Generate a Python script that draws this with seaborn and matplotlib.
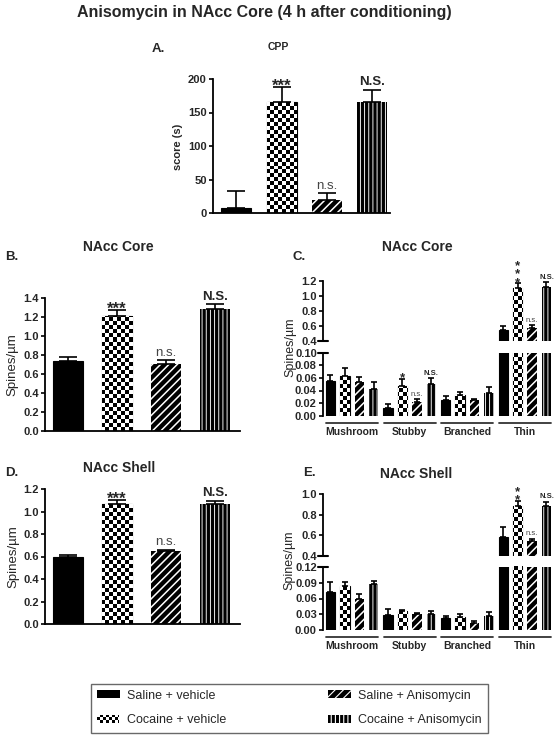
import numpy as np
import pandas as pd
import matplotlib.pyplot as plt
import matplotlib.transforms as mtransforms
from matplotlib.patches import Patch
import seaborn as sns

treatments = ["Saline + vehicle", "Cocaine + vehicle",
              "Saline + Anisomycin", "Cocaine + Anisomycin"]
spine_types = ["Mushroom", "Stubby", "Branched", "Thin"]

# A. CPP score (s): mean and upper error
cpp_mean = [8, 165, 19, 166]
cpp_err = [25, 23, 11, 18]
cpp_sig = ["", "***", "n.s.", "N.S."]

# B. NAcc core, total spines/um
core_mean = [0.74, 1.21, 0.70, 1.28]
core_err = [0.04, 0.06, 0.045, 0.05]
core_sig = ["", "***", "n.s.", "N.S."]

# D. NAcc shell, total spines/um
shell_mean = [0.60, 1.07, 0.645, 1.065]
shell_err = [0.015, 0.03, 0.015, 0.03]
shell_sig = ["", "***", "n.s.", "N.S."]

# C. NAcc core by spine type (Mushroom, Stubby, Branched, Thin)
core_sal_veh = [0.055, 0.013, 0.025, 0.55]
core_coc_veh = [0.063, 0.047, 0.033, 1.107]
core_sal_ani = [0.054, 0.021, 0.025, 0.567]
core_coc_ani = [0.043, 0.050, 0.036, 1.12]
core_sal_veh_err = [0.009, 0.005, 0.006, 0.048]
core_coc_veh_err = [0.013, 0.012, 0.005, 0.058]
core_sal_ani_err = [0.007, 0.0055, 0.002, 0.043]
core_coc_ani_err = [0.011, 0.010, 0.009, 0.06]
core_type_sig = [["", "", "", ""], ["", "*", "", "*\n*\n*"],
                 ["", "n.s.", "", "n.s."], ["", "N.S.", "", "N.S."]]

# E. NAcc shell by spine type
shell_sal_veh = [0.073, 0.029, 0.022, 0.581]
shell_coc_veh = [0.083, 0.036, 0.0255, 0.886]
shell_sal_ani = [0.059, 0.031, 0.014, 0.549]
shell_coc_ani = [0.087, 0.031, 0.027, 0.883]
shell_sal_veh_err = [0.019, 0.0106, 0.005, 0.10]
shell_coc_veh_err = [0.008, 0.002, 0.0045, 0.049]
shell_sal_ani_err = [0.010, 0.002, 0.004, 0.019]
shell_coc_ani_err = [0.007, 0.005, 0.007, 0.042]
shell_type_sig = [["", "", "", ""], ["", "", "", "*\n*"],
                  ["", "", "", "n.s."], ["", "", "", "N.S."]]

sns.set_style("ticks")
plt.rcParams["font.family"] = ["Liberation Sans", "DejaVu Sans"]
plt.rcParams["hatch.linewidth"] = 0.8

W, H = 558, 738
fig = plt.figure(figsize=(W / 100, H / 100), dpi=100)

# face colour, hatch (white lines on black), edge colour, hatch line width
fills = {"Saline + vehicle": ("black", None, "black", 0.8),
         "Cocaine + vehicle": ("white", None, "black", 0.8),
         "Saline + Anisomycin": ("black", "////", "white", 1.1),
         "Cocaine + Anisomycin": ("black", "||||", "white", 0.65)}


def add_ax(l, t, r, b):
    return fig.add_axes([l / W, 1 - b / H, (r - l) / W, (b - t) / H])


def ftext(x, y, s, **kw):
    fig.text(x / W, 1 - y / H, s, **kw)


def dress(containers):
    for tr, cont in zip(treatments, containers):
        face, hatch, edge, hlw = fills[tr]
        for bar in cont:
            bar.set_facecolor(face)
            bar.set_edgecolor(edge)
            bar.set_hatch(hatch)
            bar.set_linewidth(0.8 if edge == "black" else 0)
            if hasattr(bar, "set_hatch_linewidth"):
                bar.set_hatch_linewidth(hlw)


def checker(ax, bars, cell=4):
    bb = ax.get_window_extent()
    nx, ny = int(round(bb.width / cell)), int(round(bb.height / cell))
    board = np.add.outer(np.arange(ny), np.arange(nx)) % 2
    x0, x1 = ax.get_xlim()
    y0, y1 = ax.get_ylim()
    for bar in bars:
        im = ax.imshow(board, cmap="gray_r", origin="lower", extent=(x0, x1, y0, y1),
                       aspect="auto", interpolation="nearest", zorder=1.5)
        im.set_clip_path(bar)
    ax.set_xlim(x0, x1)
    ax.set_ylim(y0, y1)


def mark(ax, x, y, label, sizes):
    y0, y1 = ax.get_ylim()
    if not label or not (y0 <= y <= y1 + (y1 - y0) * 0.2):
        return
    if label.startswith("*"):
        s = sizes["*"]
        ax.annotate(label, (x, y), xytext=(0, -0.22 * s), textcoords="offset points",
                    ha="center", va="baseline", fontsize=s, fontweight="bold",
                    linespacing=0.62, annotation_clip=False)
    elif label == "N.S.":
        ax.annotate(label, (x, y), xytext=(0, 1), textcoords="offset points",
                    ha="center", va="bottom", fontsize=sizes["N.S."],
                    fontweight="bold", annotation_clip=False)
    else:
        ax.annotate(label, (x, y), xytext=(0, 1), textcoords="offset points",
                    ha="center", va="bottom", fontsize=sizes["n.s."],
                    color="#444444", annotation_clip=False)


def errors(ax, containers, means, errs, sigs, capsize, sizes):
    for cont, m, e, s in zip(containers, means, errs, sigs):
        xs = [b.get_x() + b.get_width() / 2 for b in cont]
        ax.errorbar(xs, m, yerr=[np.zeros(len(e)), e], fmt="none", ecolor="black",
                    elinewidth=1.2, capsize=capsize, capthick=1.2, zorder=3)
        for x, mm, ee, lab in zip(xs, m, e, s):
            mark(ax, x, mm + ee, lab, sizes)


def simple_panel(ax, mean, err, sig, ylim, yticks, fmt, xlim, width, capsize):
    df = pd.DataFrame({"treatment": treatments, "value": mean})
    sns.barplot(data=df, x="treatment", y="value", hue="treatment", hue_order=treatments,
                palette={t: "black" for t in treatments}, width=width, errorbar=None,
                legend=False, ax=ax)
    dress(ax.containers)
    ax.set_xlim(*xlim)
    ax.set_ylim(*ylim)
    ax.set_yticks(yticks, labels=[fmt.format(v) for v in yticks], fontweight="bold")
    ax.set_xticks([])
    ax.set_xlabel("")
    ax.set_ylabel("")
    sns.despine(ax=ax)
    for sp in ["left", "bottom"]:
        ax.spines[sp].set_linewidth(1.3)
        ax.spines[sp].set_color("black")
    ax.tick_params(axis="y", length=3, width=1.2, labelsize=8, pad=1.5, color="black")
    checker(ax, ax.containers[1])
    errors(ax, ax.containers, [[v] for v in mean], [[v] for v in err], [[v] for v in sig],
           capsize, {"*": 12, "N.S.": 9.5, "n.s.": 9.5})


def broken_panel(ax_hi, ax_lo, means, errs, sigs, hi_lim, hi_ticks, lo_lim, lo_ticks):
    df = pd.DataFrame({"type": spine_types * 4,
                       "treatment": np.repeat(treatments, 4),
                       "value": np.concatenate(means)})
    for ax in (ax_hi, ax_lo):
        sns.barplot(data=df, x="type", y="value", hue="treatment", hue_order=treatments,
                    palette={t: "black" for t in treatments}, width=1.0, gap=0.34,
                    errorbar=None, legend=False, ax=ax)
        dress(ax.containers)
        ax.set_xlim(-0.505, 3.5)
        ax.set_xlabel("")
        ax.set_ylabel("")
        sns.despine(ax=ax, bottom=True)
        ax.spines["left"].set_linewidth(1.3)
        ax.spines["left"].set_color("black")
        ax.tick_params(axis="y", length=3, width=1.2, labelsize=8, pad=1.5, color="black")
    ax_hi.set_ylim(*hi_lim)
    ax_hi.set_yticks(hi_ticks, labels=["{:.1f}".format(v) for v in hi_ticks], fontweight="bold")
    ax_hi.set_xticks([])
    ax_lo.set_ylim(*lo_lim)
    ax_lo.set_yticks(lo_ticks, labels=["{:.2f}".format(v) for v in lo_ticks], fontweight="bold")
    ax_lo.set_xticks(range(4), labels=spine_types, fontweight="bold", fontsize=7.5)
    ax_lo.tick_params(axis="x", length=0, pad=8)
    for ax in (ax_hi, ax_lo):
        checker(ax, ax.containers[1])
        errors(ax, ax.containers, means, errs, sigs, 2.2,
               {"*": 9.5, "N.S.": 5.5, "n.s.": 5.5})
    # axis break marks
    ax_hi.plot([-0.022, 0.022], [0, 0], transform=ax_hi.transAxes, color="black",
               lw=1.5, clip_on=False)
    ax_lo.plot([-0.022, 0.022], [1, 1], transform=ax_lo.transAxes, color="black",
               lw=1.5, clip_on=False)
    # group underlines
    trans = mtransforms.blended_transform_factory(ax_lo.transData, ax_lo.transAxes)
    for i in range(len(spine_types)):
        ax_lo.plot([i - 0.45, i + 0.45], [-0.11, -0.11], transform=trans,
                   color="#333333", lw=1.3, clip_on=False)


# A. CPP
ax_a = add_ax(213, 79, 390, 213)
simple_panel(ax_a, cpp_mean, cpp_err, cpp_sig, (0, 200), [0, 50, 100, 150, 200], "{:.0f}",
             (-0.51, 3.39), 0.66, 6.5)

# B. NAcc core
ax_b = add_ax(45, 297.7, 240, 431)
simple_panel(ax_b, core_mean, core_err, core_sig, (0, 1.4), np.arange(0, 1.41, 0.2), "{:.1f}",
             (-0.47, 3.51), 0.62, 6.5)

# D. NAcc shell
ax_d = add_ax(45, 489, 240, 624)
simple_panel(ax_d, shell_mean, shell_err, shell_sig, (0, 1.2), np.arange(0, 1.21, 0.2), "{:.1f}",
             (-0.47, 3.51), 0.62, 6.5)

# C. NAcc core by spine type
ax_c_hi = add_ax(323, 280.7, 553.7, 341)
ax_c_lo = add_ax(323, 352.7, 553.7, 415.7)
broken_panel(ax_c_hi, ax_c_lo,
             [core_sal_veh, core_coc_veh, core_sal_ani, core_coc_ani],
             [core_sal_veh_err, core_coc_veh_err, core_sal_ani_err, core_coc_ani_err],
             core_type_sig, (0.4, 1.2), np.arange(0.4, 1.21, 0.2),
             (0, 0.10), np.arange(0, 0.101, 0.02))

# E. NAcc shell by spine type
ax_e_hi = add_ax(323, 494, 553.7, 556)
ax_e_lo = add_ax(323, 567, 553.7, 630)
broken_panel(ax_e_hi, ax_e_lo,
             [shell_sal_veh, shell_coc_veh, shell_sal_ani, shell_coc_ani],
             [shell_sal_veh_err, shell_coc_veh_err, shell_sal_ani_err, shell_coc_ani_err],
             shell_type_sig, (0.4, 1.0), np.arange(0.4, 1.01, 0.2),
             (0, 0.12), np.arange(0, 0.121, 0.03))

# titles, panel letters and y labels
ftext(264, 12, "Anisomycin in NAcc Core (4 h after conditioning)", ha="center", va="center",
      fontsize=11.5, fontweight="bold")
ftext(152, 49, "A.", ha="left", va="center", fontsize=9.5, fontweight="bold")
ftext(278, 47, "CPP", ha="center", va="center", fontsize=7.5, fontweight="bold")
ftext(5, 257, "B.", ha="left", va="center", fontsize=9.5, fontweight="bold")
ftext(118, 247, "NAcc Core", ha="center", va="center", fontsize=10, fontweight="bold")
ftext(292, 257, "C.", ha="left", va="center", fontsize=9.5, fontweight="bold")
ftext(417, 247, "NAcc Core", ha="center", va="center", fontsize=10, fontweight="bold")
ftext(5, 473, "D.", ha="left", va="center", fontsize=9.5, fontweight="bold")
ftext(119, 468, "NAcc Shell", ha="center", va="center", fontsize=10, fontweight="bold")
ftext(303, 473, "E.", ha="left", va="center", fontsize=9.5, fontweight="bold")
ftext(416, 474, "NAcc Shell", ha="center", va="center", fontsize=10, fontweight="bold")

ftext(178, 147, "score (s)", rotation=90, ha="center", va="center", fontsize=8, fontweight="bold")
ftext(12, 365, "Spines/µm", rotation=90, ha="center", va="center", fontsize=9.5)
ftext(13, 557, "Spines/µm", rotation=90, ha="center", va="center", fontsize=9.5)
ftext(290, 347, "Spines/µm", rotation=90, ha="center", va="center", fontsize=9)
ftext(289, 560, "Spines/µm", rotation=90, ha="center", va="center", fontsize=9)

# legend
handles = []
for t in treatments:
    face, hatch, edge, hlw = fills[t]
    if t == "Cocaine + vehicle":
        edge = "white"
    handles.append(Patch(facecolor=face, hatch=hatch, edgecolor=edge, linewidth=0))
leg = fig.legend(handles, treatments, ncol=2, loc="center",
                 bbox_to_anchor=(91 / W, 1 - 733 / H, 397 / W, 50 / H), mode="expand",
                 fontsize=9, frameon=True, fancybox=False, edgecolor="#444444",
                 handlelength=1.8, handleheight=0.6, handletextpad=0.6,
                 labelspacing=1.0, borderpad=0.5, borderaxespad=0)
leg.get_frame().set_linewidth(1.0)

fig.canvas.draw()
bb = leg.legend_handles[1].get_window_extent()
w, h = int(round(bb.width)), int(round(bb.height))
swatch = np.add.outer(np.arange(h) // 3, np.arange(w) // 3) % 2
fig.figimage(swatch, xo=int(round(bb.x0)), yo=int(round(bb.y0)), cmap="gray_r",
             origin="lower", zorder=10)

fig.savefig("out.png", dpi=100)
